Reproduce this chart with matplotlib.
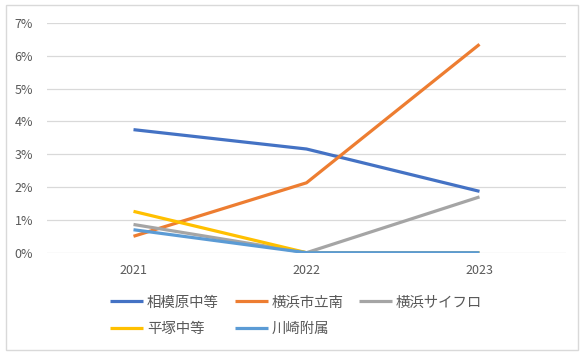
import matplotlib
matplotlib.use("Agg")
import matplotlib.pyplot as plt
from matplotlib.patches import Rectangle

plt.rcParams['font.family'] = ['Noto Sans CJK JP', 'DejaVu Sans']

years = ["2021", "2022", "2023"]
series_names = ["相模原中等", "横浜市立南", "横浜サイフロ", "平塚中等", "川崎附属"]
sagamihara = [3.75, 3.16, 1.87]
yokohama_minami = [0.50, 2.13, 6.35]
yokohama_sci = [0.86, 0.0, 1.70]
hiratsuka = [1.26, 0.0, 0.0]
kawasaki = [0.70, 0.0, 0.0]
series_values = [sagamihara, yokohama_minami, yokohama_sci, hiratsuka, kawasaki]
colors = ["#4472C4", "#ED7D31", "#A5A5A5", "#FFC000", "#5B9BD5"]
yticks = [0, 1, 2, 3, 4, 5, 6, 7]

W, H = 583, 355
fig = plt.figure(figsize=(W / 100, H / 100), dpi=100)
ax = fig.add_axes([47 / W, (H - 252.7) / H, (566 - 47) / W, (252.7 - 23) / H])

x = list(range(len(years)))
handles = []
for name, vals, c in zip(series_names, series_values, colors):
    h, = ax.plot(x, vals, color=c, lw=2.3, label=name, solid_capstyle='butt', solid_joinstyle='round')
    handles.append(h)

ax.set_xlim(-0.5, len(years) - 0.5)
ax.set_ylim(0, 7)
ax.set_xticks(x)
ax.set_xticklabels(years)
ax.set_yticks(yticks)
ax.set_yticklabels([f"{v}%" for v in yticks])
ax.tick_params(axis='both', length=0, colors='#595959', labelsize=9)
ax.tick_params(axis='y', pad=10)
ax.tick_params(axis='x', pad=8)
ax.grid(axis='y', color='#D9D9D9', lw=0.9)
ax.set_axisbelow(True)
for s in ax.spines.values():
    s.set_visible(False)

# row-wise legend order for 3 columns
order = [0, 3, 1, 4, 2]
leg = fig.legend(handles=[handles[i] for i in order], labels=[series_names[i] for i in order],
                 ncol=3, loc='upper left',
                 bbox_to_anchor=(110 / W, (H - 295.5) / H), frameon=False,
                 borderpad=0, borderaxespad=0, handlelength=2.3, handletextpad=0.25,
                 columnspacing=1.1, labelspacing=0.85, fontsize=10.4)
for t in leg.get_texts():
    t.set_color('#595959')

fig.patches.append(Rectangle((6 / W, (H - 350) / H), (578 - 6) / W, (350 - 5) / H,
                             transform=fig.transFigure, fill=False,
                             edgecolor='#D9D9D9', lw=1))

fig.savefig("out.png", dpi=100, facecolor='white')
